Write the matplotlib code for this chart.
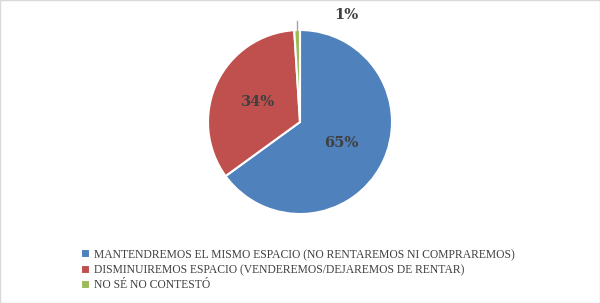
import matplotlib.pyplot as plt
from matplotlib.patches import Rectangle

categorias = [
    'MANTENDREMOS EL MISMO ESPACIO (NO RENTAREMOS NI COMPRAREMOS)',
    'DISMINUIREMOS ESPACIO (VENDEREMOS/DEJAREMOS DE RENTAR)',
    'NO SÉ NO CONTESTÓ',
]
valores = [65, 34, 1]
colores = ['#4F81BD', '#C0504D', '#9BBB59']

plt.rcParams['font.family'] = ['DejaVu Serif']
gris = '#404040'

fig = plt.figure(figsize=(6, 3.03), dpi=100)
fig.patches.append(Rectangle((0, 0), 1, 1, transform=fig.transFigure,
                             fill=False, edgecolor='#d9d9d9', linewidth=1))

ax = fig.add_axes([208 / 600, (303 - 214) / 303, 184 / 600, 184 / 303])
wedges, textos, pcts = ax.pie(
    valores, colors=colores, startangle=90, counterclock=False,
    autopct='%1.0f%%', pctdistance=0.5,
    wedgeprops=dict(edgecolor='white', linewidth=1.5),
    textprops=dict(color=gris, fontsize=10.5, fontweight='bold'))
ax.set_aspect('equal')
ax.set_xlim(-1, 1)
ax.set_ylim(-1, 1)

# etiqueta del 1% fuera del pastel con línea guía
pcts[2].set_position((0.5, 1.16))
ax.plot([-0.03, -0.03], [1.0, 1.1], color='#a6a6a6', linewidth=1, clip_on=False)

leg = fig.legend(wedges, categorias, loc='upper left',
                 bbox_to_anchor=(75 / 600, 1 - 243 / 303), frameon=False,
                 prop=dict(family='Liberation Serif', size=8.4),
                 handlelength=0.8, handleheight=0.8,
                 handletextpad=0.35, labelspacing=0.28, borderpad=0)
for t in leg.get_texts():
    t.set_color(gris)

fig.savefig('out.png', dpi=100)
